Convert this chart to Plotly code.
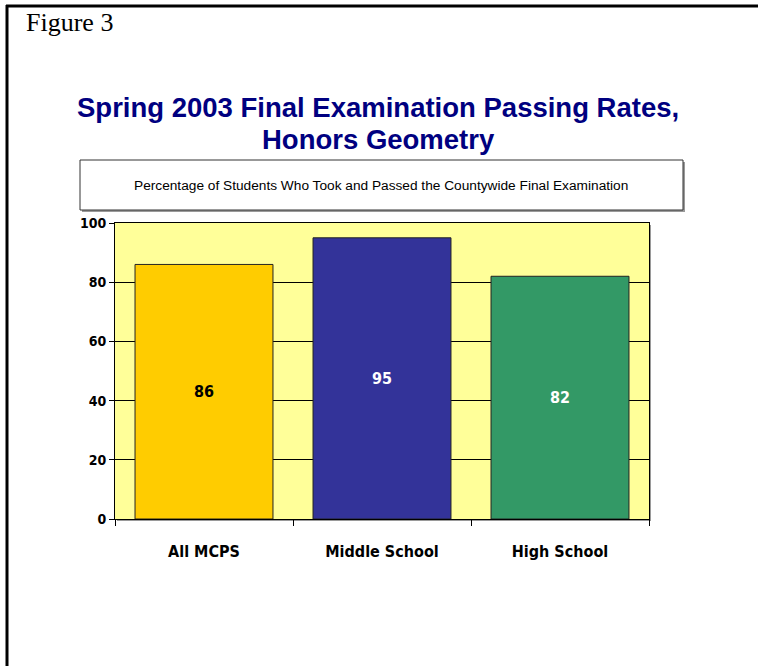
import plotly.graph_objects as go

categories = ["All MCPS", "Middle School", "High School"]
pass_rates = [86, 95, 82]
bar_colors = ["#FFCC00", "#333399", "#339966"]
label_colors = ["#000000", "#FFFFFF", "#FFFFFF"]
y_ticks = [0, 20, 40, 60, 80, 100]

W, H = 758, 666
L, R, T, B = 115, 649, 223, 519


def px(x):
    return (x - L) / (R - L)


def py(y):
    return (B - y) / (B - T)


COND = "DejaVu Sans Condensed, Liberation Sans Narrow, Arial Narrow, sans-serif"
SANS = "Liberation Sans, Arial, sans-serif"

fig = go.Figure()
fig.add_trace(go.Bar(
    x=categories,
    y=pass_rates,
    marker=dict(color=bar_colors, line=dict(color="#222222", width=1)),
    width=0.775,
    text=[str(v) for v in pass_rates],
    textposition="inside",
    insidetextanchor="middle",
    textangle=0,
    textfont=dict(family=COND, size=16, color=label_colors, weight="bold"),
    cliponaxis=False,
    hoverinfo="skip",
))

shapes = [
    # outer frame lines (top and left)
    dict(type="line", xref="paper", yref="paper", x0=px(6), x1=px(760), y0=py(6), y1=py(6),
         line=dict(color="black", width=3)),
    dict(type="line", xref="paper", yref="paper", x0=px(7), x1=px(7), y0=py(5), y1=py(670),
         line=dict(color="black", width=3)),
    # subtitle box shadow and box
    dict(type="rect", xref="paper", yref="paper", x0=px(82), x1=px(685), y0=py(162), y1=py(212),
         line=dict(width=0), fillcolor="#9a9a9a", layer="below"),
    dict(type="rect", xref="paper", yref="paper", x0=px(80), x1=px(683), y0=py(160), y1=py(210),
         line=dict(color="#333333", width=1), fillcolor="white", layer="below"),
    # plot area shadow and background
    dict(type="rect", xref="paper", yref="paper", x0=px(L + 2), x1=px(R + 2), y0=py(B + 2), y1=py(T + 2),
         line=dict(width=0), fillcolor="#9a9a9a", layer="below"),
    dict(type="rect", xref="paper", yref="paper", x0=0, x1=1, y0=0, y1=1,
         line=dict(width=0), fillcolor="#FFFF99", layer="below"),
]

annotations = [
    dict(text="Figure 3", xref="paper", yref="paper", x=px(24), y=py(22), xanchor="left", yanchor="middle",
         showarrow=False, font=dict(family="Liberation Serif, Times New Roman, serif", size=26, color="black")),
    dict(text="Spring 2003 Final Examination Passing Rates,", xref="paper", yref="paper",
         x=px(378), y=py(108), xanchor="center", yanchor="middle", showarrow=False,
         font=dict(family=SANS, size=27.5, color="#000080", weight="bold")),
    dict(text="Honors Geometry", xref="paper", yref="paper",
         x=px(378), y=py(139), xanchor="center", yanchor="middle", showarrow=False,
         font=dict(family=SANS, size=27.5, color="#000080", weight="bold")),
    dict(text="Percentage of Students Who Took and Passed the Countywide Final Examination",
         xref="paper", yref="paper", x=px(381), y=py(185), xanchor="center", yanchor="middle",
         showarrow=False, font=dict(family=SANS, size=13.7, color="black")),
]

fig.update_layout(
    width=W, height=H, autosize=False,
    margin=dict(l=L, r=W - R, t=T, b=H - B, pad=0),
    paper_bgcolor="white",
    plot_bgcolor="rgba(0,0,0,0)",
    showlegend=False,
    bargap=0.225,
    shapes=shapes,
    annotations=annotations,
    hovermode=False,
    xaxis=dict(
        type="category",
        showline=True, linecolor="black", linewidth=1, mirror=True,
        ticks="outside", tickson="boundaries", ticklen=6, tickcolor="black",
        showgrid=False,
        tickfont=dict(family=COND, size=16, color="black", weight="bold"),
        ticklabelstandoff=18,
    ),
    yaxis=dict(
        range=[0, 100],
        tickvals=y_ticks,
        showline=True, linecolor="black", linewidth=1, mirror=True,
        ticks="outside", ticklen=5, tickcolor="black",
        showgrid=True, gridcolor="black", gridwidth=1,
        zeroline=False,
        tickfont=dict(family=COND, size=14, color="black", weight="bold"),
    ),
)

fig.write_html("out.html", config={"displayModeBar": False},
               post_script="document.body.style.margin='0px';")
